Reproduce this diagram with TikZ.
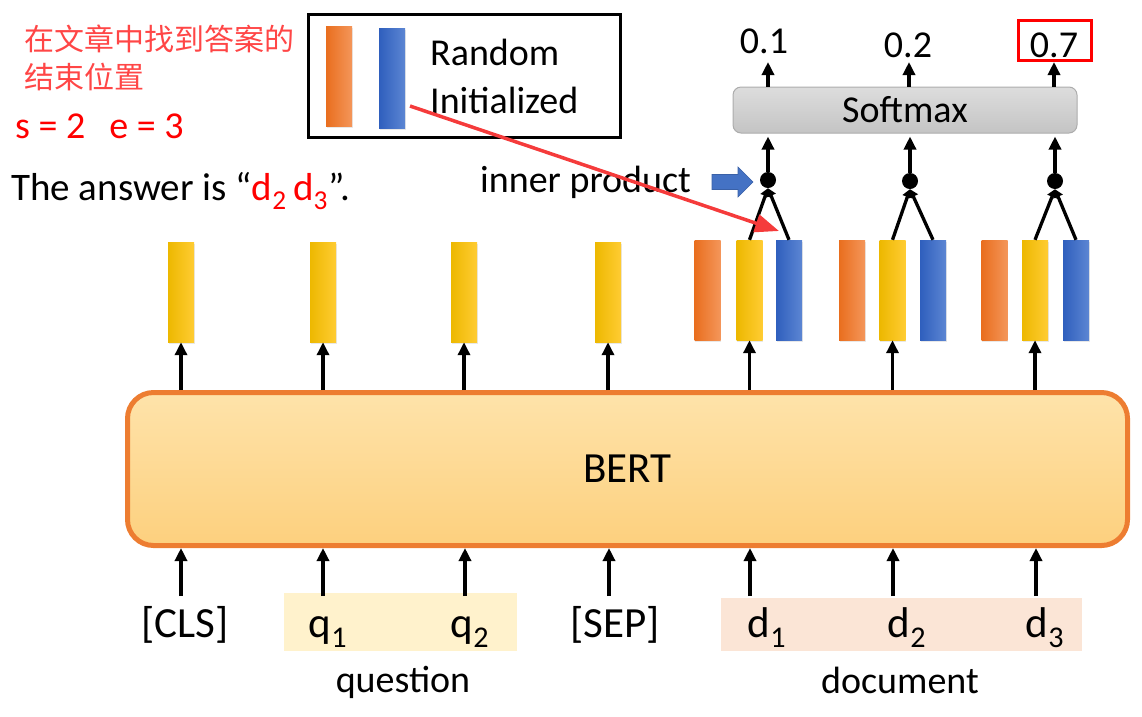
\documentclass[tikz,border=0pt]{standalone}
\usepackage{fontspec}
\setmainfont{Carlito}
\newfontfamily\cjk{Noto Sans CJK SC}
\usetikzlibrary{arrows.meta,shapes.arrows,shadows}
\definecolor{orgL}{HTML}{E96E1E}
\definecolor{orgR}{HTML}{F4965A}
\definecolor{yelL}{HTML}{EDB800}
\definecolor{yelR}{HTML}{FFCC33}
\definecolor{bluL}{HTML}{2F5FBD}
\definecolor{bluR}{HTML}{5C86D3}
\definecolor{bertT}{HTML}{FEE3AA}
\definecolor{bertB}{HTML}{FDD07E}
\definecolor{bertE}{HTML}{ED7D31}
\definecolor{smT}{HTML}{DDDDDD}
\definecolor{smB}{HTML}{C4C4C4}
\definecolor{qfill}{HTML}{FFF2CC}
\definecolor{dfill}{HTML}{FBE5D6}
\definecolor{zhred}{HTML}{FF4646}
\definecolor{arrred}{HTML}{F53B3B}
\definecolor{arrblue}{HTML}{4472C4}
\begin{document}
\begin{tikzpicture}[x=1pt,y=-1pt,
  txt/.style={inner sep=0pt, font=\fontsize{38}{44}\selectfont},
  tok/.style={inner sep=0pt, anchor=base, font=\fontsize{43}{50}\selectfont},
  bar/.style={minimum width=26pt, minimum height=100pt, inner sep=0pt,
    drop shadow={shadow xshift=0.8pt, shadow yshift=-1.5pt, opacity=0.18}},
  obar/.style={bar, left color=orgL, right color=orgR},
  ybar/.style={bar, left color=yelL, right color=yelR},
  bbar/.style={bar, left color=bluL, right color=bluR},
  arr/.style={line width=3.3pt, -{Triangle[width=12pt,length=13pt]}},
  sarr/.style={line width=3.3pt, -{Triangle[width=10pt,length=8pt]}},
  dotn/.style={circle, fill=black, minimum size=16pt, inner sep=0pt},
]
\useasboundingbox (0,0) rectangle (1142,716);

% BERT
\node[rounded corners=26pt, draw=bertE, line width=5pt, top color=bertT, bottom color=bertB,
  minimum width=1000pt, minimum height=153pt, font=\fontsize{43}{50}\selectfont] (bert) at (627.5,469) {BERT};

% input highlights
\node[fill=qfill, minimum width=233pt, minimum height=58pt, inner sep=0pt] (qbox) at (400.5,622) {};
\node[fill=dfill, minimum width=361pt, minimum height=53pt, inner sep=0pt] (dbox) at (901.5,624.5) {};

% tokens
\node[tok] (cls) at (185,637) {[CLS]};
\node[tok] (q1) at (328,637) {q\textsubscript{1}};
\node[tok] (q2) at (470,637) {q\textsubscript{2}};
\node[tok] (sep) at (615,637) {[SEP]};
\node[tok] (d1) at (767,637) {d\textsubscript{1}};
\node[tok] (d2) at (907,637) {d\textsubscript{2}};
\node[tok] (d3) at (1045,637) {d\textsubscript{3}};
\node[txt, anchor=base] (question) at (403,692) {question};
\node[txt, anchor=base] (document) at (900,693) {document};

% input arrows
\foreach \n/\x in {a/181,b/323,c/465,d/609,e/750,f/893,g/1036}{
  \coordinate (in\n) at (\x,596);
  \draw[arr] (in\n) -- (in\n |- bert.south);
}

% output bars
\node[ybar] (ycls) at (181,292) {};
\node[ybar] (yq1) at (323,292) {};
\node[ybar] (yq2) at (464,292) {};
\node[ybar] (ysep) at (608,292) {};
\node[obar] (od1) at (707.5,290) {};
\node[ybar] (yd1) at (749.5,290) {};
\node[bbar] (bd1) at (789,290) {};
\node[obar] (od2) at (852,290) {};
\node[ybar] (yd2) at (892.5,290) {};
\node[bbar] (bd2) at (933,290) {};
\node[obar] (od3) at (994.5,290) {};
\node[ybar] (yd3) at (1035,290) {};
\node[bbar] (bd3) at (1076,290) {};

\foreach \b in {ycls,yq1,yq2,ysep,yd1,yd2,yd3}{
  \draw[arr] (bert.north -| \b) -- (\b.south);
}

% inner products
\node[dotn] (ip1) at (768,180) {};
\node[dotn] (ip2) at (910,181) {};
\node[dotn] (ip3) at (1055,181) {};
\foreach \i in {1,2,3}{
  \draw[sarr] (yd\i.north) -- (ip\i.south);
  \draw[sarr] (bd\i.north) -- (ip\i.south);
}

% softmax
\node[rounded corners=8pt, draw=gray!65, line width=1pt, top color=smT, bottom color=smB,
  minimum width=344pt, minimum height=46pt, font=\fontsize{38}{44}\selectfont] (sm) at (905,110) {Softmax};
\foreach \i in {1,2,3}{
  \draw[arr, shorten >=3pt] (ip\i.north) -- (ip\i |- sm.south);
}

% probabilities
\node[txt] (p1) at (764,41) {0.1};
\node[txt] (p2) at (908,45) {0.2};
\node[txt] (p3) at (1054,45) {0.7};
\node[draw=red, line width=3pt, minimum width=73pt, minimum height=40pt, inner sep=0pt] (box7) at (1055,40.5) {};
\coordinate (t1) at (768,62);
\coordinate (t2) at (909,62);
\coordinate (t3) at (1054,62);
\draw[arr] (sm.north -| t1) -- (t1);
\draw[arr] (sm.north -| t2) -- (t2);
\draw[arr] (sm.north -| t3) -- (t3);

% legend
\node[draw, line width=3pt, minimum width=312pt, minimum height=123pt, inner sep=0pt] (legend) at (464.5,76) {};
\node[obar] (lo) at (339,76) {};
\node[bbar] (lb) at (392,78) {};
\node[txt, anchor=base west] (rand) at (430,65) {Random};
\node[txt, anchor=base west] (init) at (430,113) {Initialized};

% inner product label
\node[txt, anchor=base west] (iplab) at (480,192) {inner product};
\coordinate (ba) at (712,182);
\fill[arrblue, draw=arrblue!85!black, line width=0.6pt]
  (ba) ++(0,-7.5) -- ++(26,0) -- ++(0,-7.5) -- ++(15,15) -- ++(-15,15) -- ++(0,-7.5) -- ++(-26,0) -- cycle;

% red arrow
\coordinate (rs) at (410,106);
\coordinate (rt) at (779,231);
\draw[arrred, line width=3.5pt, -{Triangle[width=18pt,length=24pt]}] (rs) -- (rt);

% left texts
\node[inner sep=0pt, anchor=west, text=zhred, font=\cjk\fontsize{30}{36}\selectfont] (zh1) at (24,39) {在文章中找到答案的};
\node[inner sep=0pt, anchor=west, text=zhred, font=\cjk\fontsize{30}{36}\selectfont] (zh2) at (24,77) {结束位置};
\node[txt, anchor=base west, text=red] (se) at (15,138) {s = 2\hspace{24pt}e = 3};
\node[txt, anchor=base west, font=\fontsize{39}{46}\selectfont] (ans) at (11,200) {The answer is “\textcolor{red}{d\textsubscript{2}\,d\textsubscript{3}}”.};
\end{tikzpicture}
\end{document}
